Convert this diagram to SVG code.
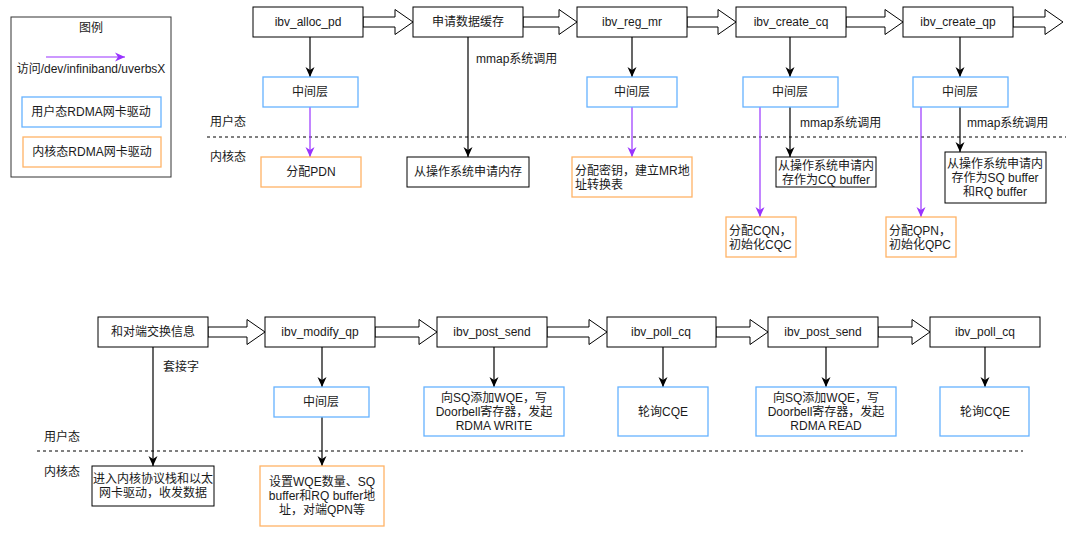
<svg xmlns="http://www.w3.org/2000/svg" width="1080" height="540" viewBox="0 0 1080 540">
<defs>
<style>
text{font-family:"Liberation Sans","Noto Sans CJK SC",Arial,sans-serif;font-size:12px;fill:#1a1a1a}
.c{text-anchor:middle;dominant-baseline:central}
.l{dominant-baseline:central}
.n{fill:#fff;stroke:#000;stroke-width:1}
.b{fill:#fff;stroke:#66B2FF;stroke-width:1.3}
.o{fill:#fff;stroke:#FFB366;stroke-width:1.3}
.blk{fill:#fff;stroke:#000;stroke-width:1}
.e{fill:none;stroke:#000;stroke-width:1.2}
.p{fill:none;stroke:#9933FF;stroke-width:1.2}
.d{fill:none;stroke:#000;stroke-width:1;stroke-dasharray:3 3}
</style>
<marker id="ak" viewBox="0 0 10 10" refX="10" refY="5" markerWidth="10" markerHeight="10" markerUnits="userSpaceOnUse" orient="auto"><path d="M0,0.5 L10,5 L0,9.5 L3,5 z" fill="#000"/></marker>
<marker id="ap" viewBox="0 0 10 10" refX="10" refY="5" markerWidth="10" markerHeight="10" markerUnits="userSpaceOnUse" orient="auto"><path d="M0,0.5 L10,5 L0,9.5 L3,5 z" fill="#9933FF"/></marker>
</defs>
<rect width="1080" height="540" fill="#fff"/>

<g id="legend">
<rect x="11" y="17" width="160" height="160" fill="#fff" stroke="#333" stroke-width="1"/>
<text class="c" x="91" y="28">图例</text>
<line x1="46" y1="57" x2="125" y2="57" class="p" marker-end="url(#ap)"/>
<text class="c" x="91" y="69">访问/dev/infiniband/uverbsX</text>
<rect class="b" x="22" y="97" width="139" height="30"/>
<text class="c" x="91" y="112">用户态RDMA网卡驱动</text>
<rect class="o" x="23" y="137" width="138" height="30"/>
<text class="c" x="92" y="152">内核态RDMA网卡驱动</text>
</g>

<g id="separators">
<line class="d" x1="207" y1="137" x2="1066" y2="137"/>
<text class="l" x="210" y="122">用户态</text>
<text class="l" x="210" y="157">内核态</text>
<line class="d" x1="37" y1="451" x2="1023" y2="451"/>
<text class="l" x="44" y="437">用户态</text>
<text class="l" x="44" y="472">内核态</text>
</g>

<g id="connectors">
<!-- top block arrows -->
<polygon class="blk" points="363,17 395,17 395,9.5 413,22 395,34.5 395,27 363,27"/>
<polygon class="blk" points="523,17 559,17 559,9.5 577,22 559,34.5 559,27 523,27"/>
<polygon class="blk" points="687,17 718,17 718,9.5 736,22 718,34.5 718,27 687,27"/>
<polygon class="blk" points="846,17 885,17 885,9.5 903,22 885,34.5 885,27 846,27"/>
<polygon class="blk" points="1013,17 1045,17 1045,9.5 1063,22 1045,34.5 1045,27 1013,27"/>
<!-- bottom block arrows -->
<polygon class="blk" points="208,327 247,327 247,319.5 265,332 247,344.5 247,337 208,337"/>
<polygon class="blk" points="375,327 419,327 419,319.5 437,332 419,344.5 419,337 375,337"/>
<polygon class="blk" points="547,327 589,327 589,319.5 607,332 589,344.5 589,337 547,337"/>
<polygon class="blk" points="716,327 750,327 750,319.5 768,332 750,344.5 750,337 716,337"/>
<polygon class="blk" points="878,327 912,327 912,319.5 930,332 912,344.5 912,337 878,337"/>
<!-- top verticals -->
<line class="e" x1="310" y1="37" x2="310" y2="77" marker-end="url(#ak)"/>
<line class="p" x1="310" y1="107" x2="310" y2="157" marker-end="url(#ap)"/>
<line class="e" x1="468" y1="37" x2="468" y2="157" marker-end="url(#ak)"/>
<text class="l" x="476" y="59">mmap系统调用</text>
<line class="e" x1="632" y1="37" x2="632" y2="77" marker-end="url(#ak)"/>
<line class="p" x1="632" y1="107" x2="632" y2="157" marker-end="url(#ap)"/>
<line class="e" x1="790" y1="37" x2="790" y2="77" marker-end="url(#ak)"/>
<line class="p" x1="760" y1="107" x2="760" y2="217" marker-end="url(#ap)"/>
<line class="e" x1="790" y1="107" x2="790" y2="157" marker-end="url(#ak)"/>
<text class="l" x="800" y="123">mmap系统调用</text>
<line class="e" x1="960" y1="37" x2="960" y2="77" marker-end="url(#ak)"/>
<line class="p" x1="921" y1="107" x2="921" y2="217" marker-end="url(#ap)"/>
<line class="e" x1="960" y1="107" x2="960" y2="152" marker-end="url(#ak)"/>
<text class="l" x="967" y="123">mmap系统调用</text>
<!-- bottom verticals -->
<line class="e" x1="153" y1="347" x2="153" y2="466" marker-end="url(#ak)"/>
<text class="l" x="163" y="367">套接字</text>
<line class="e" x1="322" y1="347" x2="322" y2="387" marker-end="url(#ak)"/>
<line class="e" x1="322" y1="417" x2="322" y2="466" marker-end="url(#ak)"/>
<line class="e" x1="494" y1="347" x2="494" y2="387" marker-end="url(#ak)"/>
<line class="e" x1="663" y1="347" x2="663" y2="387" marker-end="url(#ak)"/>
<line class="e" x1="826" y1="347" x2="826" y2="387" marker-end="url(#ak)"/>
<line class="e" x1="985" y1="347" x2="985" y2="387" marker-end="url(#ak)"/>
</g>

<g id="n-alloc-pd"><rect class="n" x="253" y="7" width="110" height="30"/><text class="c" x="308" y="22">ibv_alloc_pd</text></g>
<g id="n-buffer"><rect class="n" x="413" y="7" width="110" height="30"/><text class="c" x="468" y="22">申请数据缓存</text></g>
<g id="n-reg-mr"><rect class="n" x="577" y="7" width="110" height="30"/><text class="c" x="632" y="22">ibv_reg_mr</text></g>
<g id="n-create-cq"><rect class="n" x="736" y="7" width="110" height="30"/><text class="c" x="791" y="22">ibv_create_cq</text></g>
<g id="n-create-qp"><rect class="n" x="903" y="7" width="110" height="30"/><text class="c" x="958" y="22">ibv_create_qp</text></g>

<g id="n-mid1"><rect class="b" x="263" y="77" width="95" height="30"/><text class="c" x="310" y="92">中间层</text></g>
<g id="n-mid2"><rect class="b" x="587" y="77" width="90" height="30"/><text class="c" x="632" y="92">中间层</text></g>
<g id="n-mid3"><rect class="b" x="743" y="77" width="95" height="30"/><text class="c" x="790" y="92">中间层</text></g>
<g id="n-mid4"><rect class="b" x="913" y="77" width="95" height="30"/><text class="c" x="960" y="92">中间层</text></g>

<g id="n-pdn"><rect class="o" x="261" y="157" width="100" height="30"/><text class="c" x="311" y="172">分配PDN</text></g>
<g id="n-mem"><rect class="n" x="407" y="157" width="122" height="30"/><text class="c" x="468" y="172">从操作系统申请内存</text></g>
<g id="n-key"><rect class="o" x="572" y="157" width="120" height="40"/><text class="l" x="575" y="171">分配密钥，建立MR地</text><text class="l" x="575" y="185">址转换表</text></g>
<g id="n-cqbuf"><rect class="n" x="776" y="157" width="100" height="30"/><text class="c" x="826" y="166">从操作系统申请内</text><text class="c" x="826" y="180">存作为CQ buffer</text></g>
<g id="n-cqn"><rect class="o" x="726" y="217" width="70" height="40"/><text class="l" x="729" y="231">分配CQN，</text><text class="l" x="729" y="245">初始化CQC</text></g>
<g id="n-qpbuf"><rect class="n" x="945" y="152" width="101" height="51"/><text class="c" x="995" y="164">从操作系统申请内</text><text class="c" x="995" y="178">存作为SQ buffer</text><text class="c" x="995" y="192">和RQ buffer</text></g>
<g id="n-qpn"><rect class="o" x="886" y="217" width="70" height="40"/><text class="l" x="889" y="231">分配QPN，</text><text class="l" x="889" y="245">初始化QPC</text></g>

<g id="n-exchange"><rect class="n" x="98" y="317" width="110" height="30"/><text class="c" x="153" y="332">和对端交换信息</text></g>
<g id="n-modify-qp"><rect class="n" x="265" y="317" width="110" height="30"/><text class="c" x="320" y="332">ibv_modify_qp</text></g>
<g id="n-post-send1"><rect class="n" x="437" y="317" width="110" height="30"/><text class="c" x="492" y="332">ibv_post_send</text></g>
<g id="n-poll-cq1"><rect class="n" x="607" y="317" width="109" height="30"/><text class="c" x="661" y="332">ibv_poll_cq</text></g>
<g id="n-post-send2"><rect class="n" x="768" y="317" width="110" height="30"/><text class="c" x="823" y="332">ibv_post_send</text></g>
<g id="n-poll-cq2"><rect class="n" x="930" y="317" width="110" height="30"/><text class="c" x="985" y="332">ibv_poll_cq</text></g>

<g id="n-kernel-stack"><rect class="n" x="92" y="466" width="122" height="40"/><text class="c" x="153" y="479">进入内核协议栈和以太</text><text class="c" x="153" y="493">网卡驱动，收发数据</text></g>
<g id="n-mid5"><rect class="b" x="274" y="387" width="95" height="30"/><text class="c" x="321" y="402">中间层</text></g>
<g id="n-setwqe"><rect class="o" x="260" y="466" width="124" height="60"/><text class="c" x="322" y="482">设置WQE数量、SQ</text><text class="c" x="322" y="496">buffer和RQ buffer地</text><text class="c" x="322" y="510">址，对端QPN等</text></g>
<g id="n-write"><rect class="b" x="424" y="387" width="140" height="49"/><text class="c" x="494" y="398">向SQ添加WQE，写</text><text class="c" x="494" y="412">Doorbell寄存器，发起</text><text class="c" x="494" y="426">RDMA WRITE</text></g>
<g id="n-cqe1"><rect class="b" x="618" y="387" width="90" height="49"/><text class="c" x="663" y="412">轮询CQE</text></g>
<g id="n-read"><rect class="b" x="756" y="387" width="140" height="49"/><text class="c" x="826" y="398">向SQ添加WQE，写</text><text class="c" x="826" y="412">Doorbell寄存器，发起</text><text class="c" x="826" y="426">RDMA READ</text></g>
<g id="n-cqe2"><rect class="b" x="940" y="387" width="89" height="49"/><text class="c" x="985" y="412">轮询CQE</text></g>
</svg>
